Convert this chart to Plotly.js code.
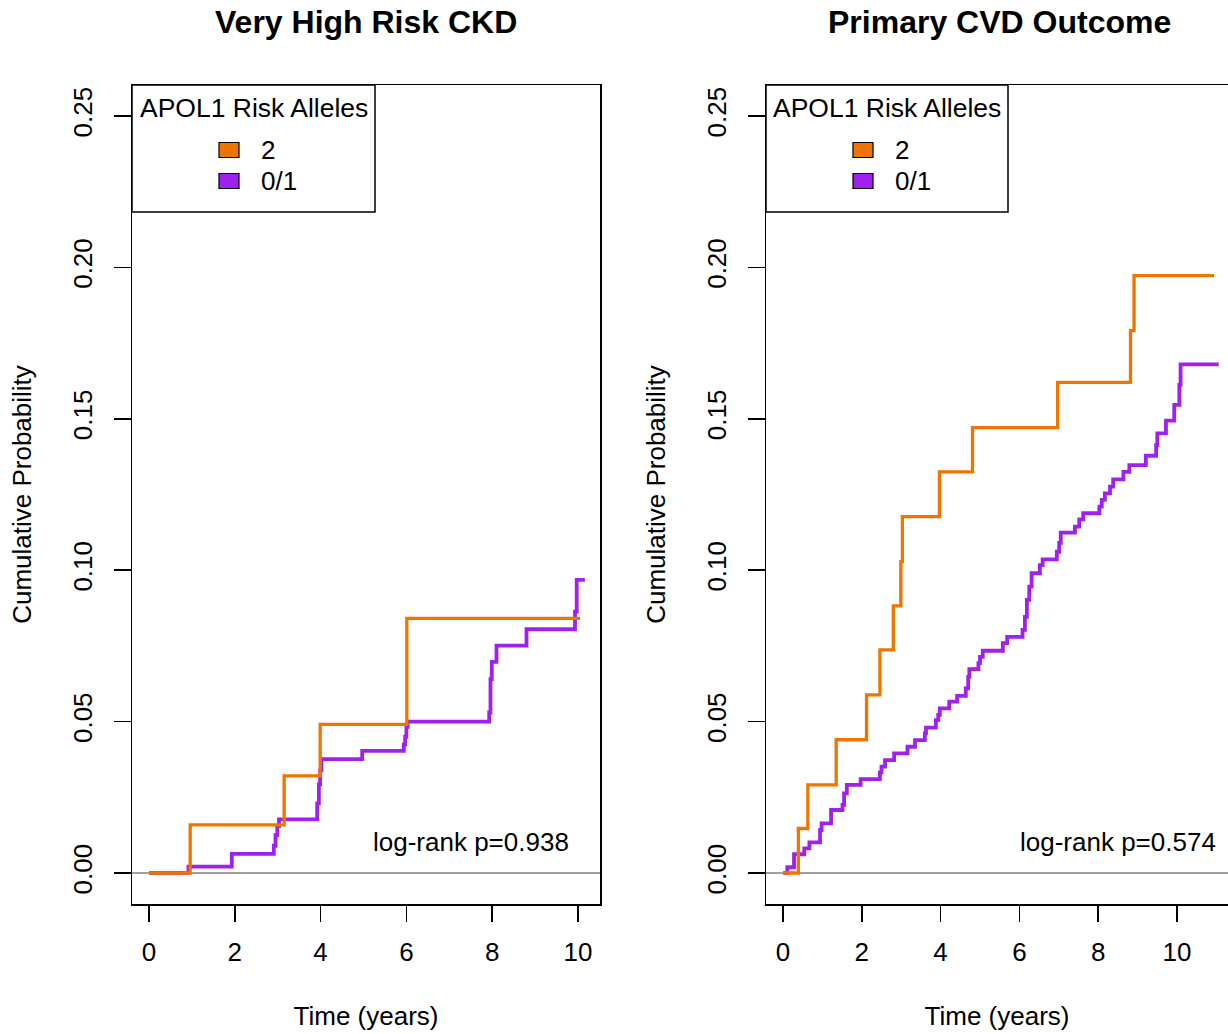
<!DOCTYPE html>
<html>
<head>
<meta charset="utf-8">
<script src="https://cdn.plot.ly/plotly-3.0.1.min.js"></script>
<style>html,body{margin:0;padding:0;background:#fff;}#chart{width:1228px;height:1034px;}</style>
</head>
<body>
<div id="chart"></div>
<script>
// ---------------- data ----------------
const panelTitles = ["Very High Risk CKD", "Primary CVD Outcome"];
const groupNames = ["2", "0/1"];
const legendTitle = "APOL1 Risk Alleles";
const pValueLabels = ["log-rank p=0.938", "log-rank p=0.574"];
const xTickVals = [0, 2, 4, 6, 8, 10];
const yTickVals = [0, 0.05, 0.10, 0.15, 0.20, 0.25];

// Very High Risk CKD — 2 risk alleles
const ckdTime2 = [0, 0.96, 3.15, 3.99, 6.01, 10.05];
const ckdProb2 = [0, 0.0159, 0.0321, 0.0491, 0.0841, 0.0841];
// Very High Risk CKD — 0/1 risk alleles
const ckdTime01 = [0, 0.92, 1.93, 2.91, 2.95, 2.99, 3.03, 3.92, 3.96, 3.99, 4.02, 4.97, 5.94, 5.97, 6.00, 6.03, 7.93, 7.96, 7.99, 8.10, 8.80, 9.93, 9.97, 10.16];
const ckdProb01 = [0, 0.0021, 0.0063, 0.0090, 0.0125, 0.0155, 0.0177, 0.0230, 0.0293, 0.0340, 0.0376, 0.0403, 0.0425, 0.0450, 0.0483, 0.0500, 0.0530, 0.0640, 0.0697, 0.0751, 0.0805, 0.0863, 0.0968, 0.0968];

// Primary CVD Outcome — 2 risk alleles
const cvdTime2 = [0, 0.39, 0.63, 1.35, 2.12, 2.46, 2.80, 2.99, 3.03, 3.97, 4.81, 6.97, 8.82, 8.91, 10.94];
const cvdProb2 = [0, 0.0147, 0.0291, 0.0440, 0.0588, 0.0737, 0.0882, 0.1028, 0.1177, 0.1325, 0.1471, 0.1620, 0.1791, 0.1973, 0.1973];
// Primary CVD Outcome — 0/1 risk alleles
const cvdTime01 = [0, 0.11, 0.28, 0.54, 0.67, 0.94, 0.98, 1.22, 1.51, 1.55, 1.62, 1.97, 2.46, 2.50, 2.59, 2.82, 3.16, 3.35, 3.60, 3.63, 3.88, 3.94, 3.98, 4.22, 4.42, 4.64, 4.70, 4.73, 4.96, 5.00, 5.07, 5.58, 5.69, 6.08, 6.14, 6.19, 6.25, 6.31, 6.52, 6.59, 6.95, 7.01, 7.05, 7.41, 7.52, 7.62, 8.03, 8.09, 8.17, 8.30, 8.38, 8.64, 8.79, 9.21, 9.47, 9.50, 9.72, 9.93, 10.06, 10.09, 11.06];
const cvdProb01 = [0, 0.0019, 0.0062, 0.0081, 0.0101, 0.0142, 0.0164, 0.0208, 0.0225, 0.0263, 0.0291, 0.0310, 0.0332, 0.0351, 0.0373, 0.0395, 0.0417, 0.0439, 0.0461, 0.0480, 0.0505, 0.0522, 0.0544, 0.0566, 0.0585, 0.0610, 0.0648, 0.0673, 0.0693, 0.0714, 0.0734, 0.0759, 0.0780, 0.0803, 0.0846, 0.0902, 0.0946, 0.0990, 0.1017, 0.1036, 0.1061, 0.1090, 0.1124, 0.1144, 0.1168, 0.1188, 0.1210, 0.1232, 0.1254, 0.1276, 0.1300, 0.1325, 0.1347, 0.1378, 0.1413, 0.1452, 0.1494, 0.1546, 0.1612, 0.1680, 0.1680];

// ---------------- styling ----------------
const W = 1228, H = 1034;
const FONT = "Liberation Sans, Arial, Helvetica, sans-serif";
const COL2 = "#EE7600";
const COL01 = "#A020F0";
const fx = p => p / W;
const fy = p => 1 - p / H;

function km(x, y, name, color, width, xa, ya) {
  return {x: x, y: y, name: name, type: "scatter", mode: "lines",
    line: {shape: "hv", color: color, width: width},
    xaxis: xa, yaxis: ya, showlegend: false, hoverinfo: "x+y+name"};
}

const traces = [
  km(ckdTime01, ckdProb01, groupNames[1], COL01, 3.8, "x", "y"),
  km(ckdTime2, ckdProb2, groupNames[0], COL2, 3.3, "x", "y"),
  km(cvdTime01, cvdProb01, groupNames[1], COL01, 3.8, "x2", "y2"),
  km(cvdTime2, cvdProb2, groupNames[0], COL2, 3.3, "x2", "y2")
];

const yDomain = [fy(904), fy(85)];
const yRange = [-(904 - 873) / 3028, (873 - 85) / 3028];

function xAxis(domain, range, anchor) {
  return {domain: domain, range: range, anchor: anchor,
    tickvals: xTickVals, ticktext: xTickVals.map(String),
    showgrid: false, zeroline: false, showline: true, mirror: true,
    linecolor: "#000", linewidth: 1.5, ticks: "outside", ticklen: 16, tickwidth: 1.5, tickcolor: "#000",
    ticklabelstandoff: 8,
    tickfont: {family: FONT, size: 26, color: "#000"},
    title: {text: "Time (years)", font: {family: FONT, size: 26, color: "#000"}, standoff: 41}};
}
function yAxis(range, mirror, anchor) {
  return {domain: yDomain, range: range, anchor: anchor,
    tickvals: yTickVals, tickformat: ".2f", tickangle: -90,
    showgrid: false, zeroline: false, showline: true, mirror: mirror,
    linecolor: "#000", linewidth: 1.5, ticks: "outside", ticklen: 17, tickwidth: 1.5, tickcolor: "#000",
    ticklabelstandoff: 11,
    tickfont: {family: FONT, size: 26, color: "#000"},
    title: {text: "Cumulative Probability", font: {family: FONT, size: 26, color: "#000"}, standoff: 29}};
}

const layout = {
  width: W, height: H,
  margin: {l: 0, r: 0, t: 0, b: 0},
  paper_bgcolor: "#fff", plot_bgcolor: "#fff",
  showlegend: false,
  xaxis: xAxis([fx(132), fx(600)], [(132 - 149) / 42.9, (600 - 149) / 42.9], "y"),
  yaxis: yAxis(yRange, true, "x"),
  xaxis2: xAxis([fx(766), 1], [(766 - 783) / 39.4, (1228 - 783) / 39.4], "y2"),
  yaxis2: yAxis(yRange, false, "x2"),
  shapes: [],
  annotations: []
};

// zero reference lines
[["x", "y"], ["x2", "y2"]].forEach(([xa, ya]) => {
  layout.shapes.push({type: "line", xref: xa + " domain", yref: ya, x0: 0, x1: 1, y0: 0, y1: 0,
    line: {color: "#808080", width: 1.5}, layer: "below"});
});

// panel titles
[[366, 0], [999, 1]].forEach(([cx, i]) => {
  layout.annotations.push({text: panelTitles[i], xref: "paper", yref: "paper", x: fx(cx), y: fy(22),
    xanchor: "center", yanchor: "middle", showarrow: false,
    font: {family: FONT, size: 32, color: "#000", weight: "bold"}});
});

// p-values
[[571, 0], [1218, 1]].forEach(([rx, i]) => {
  layout.annotations.push({text: pValueLabels[i], xref: "paper", yref: "paper", x: fx(rx), y: fy(842),
    xanchor: "right", yanchor: "middle", showarrow: false,
    font: {family: FONT, size: 26, color: "#000"}});
});

// legends (drawn as boxed keys like the original)
[[132, 375], [766, 1008]].forEach(([l, r]) => {
  layout.shapes.push({type: "rect", xref: "paper", yref: "paper", x0: fx(l), x1: fx(r), y0: fy(212), y1: fy(85),
    line: {color: "#000", width: 1.5}, fillcolor: "#fff", layer: "above"});
  layout.annotations.push({text: legendTitle, xref: "paper", yref: "paper", x: fx((l + r) / 2), y: fy(108),
    xanchor: "center", yanchor: "middle", showarrow: false, font: {family: FONT, size: 26.5, color: "#000"}});
  const sx = l + 87;
  [[COL2, 150, groupNames[0]], [COL01, 181, groupNames[1]]].forEach(([c, cy, t]) => {
    layout.shapes.push({type: "rect", xref: "paper", yref: "paper", x0: fx(sx), x1: fx(sx + 20), y0: fy(cy + 7.5), y1: fy(cy - 7.5),
      line: {color: "#000", width: 1.2}, fillcolor: c, layer: "above"});
    layout.annotations.push({text: t, xref: "paper", yref: "paper", x: fx(l + 127), y: fy(cy),
      xanchor: "left", yanchor: "middle", showarrow: false, font: {family: FONT, size: 26, color: "#000"}});
  });
});

Plotly.newPlot("chart", traces, layout, {displayModeBar: false, staticPlot: true});
</script>
</body>
</html>
